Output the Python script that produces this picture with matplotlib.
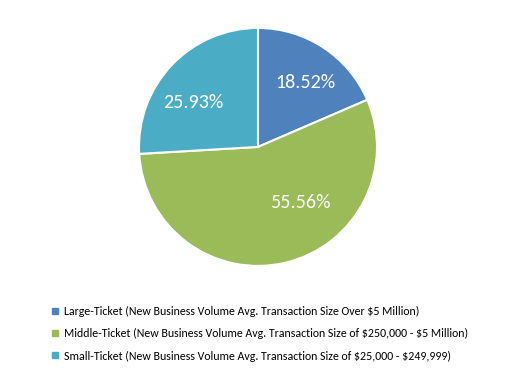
import matplotlib
matplotlib.use("Agg")
import matplotlib.pyplot as plt
from matplotlib.lines import Line2D
import numpy as np

plt.rcParams['font.family'] = ['Carlito', 'Liberation Sans', 'DejaVu Sans']
plt.rcParams['text.parse_math'] = False

categories = [
    "Large-Ticket (New Business Volume Avg. Transaction Size Over $5 Million)",
    "Middle-Ticket (New Business Volume Avg. Transaction Size of $250,000 - $5 Million)",
    "Small-Ticket (New Business Volume Avg. Transaction Size of $25,000 - $249,999)",
]
shares = [18.52, 55.56, 25.93]
colors = ['#4F81BD', '#9BBB59', '#4BACC6']

fig = plt.figure(figsize=(5.23, 3.72), dpi=100)
ax = fig.add_axes([0.2658, 0.285, 0.455, 0.64])

wedges, texts, autotexts = ax.pie(
    shares, colors=colors, startangle=90, counterclock=False,
    autopct='%.2f%%', pctdistance=0.69,
    wedgeprops=dict(edgecolor='white', linewidth=1.5),
    textprops=dict(color='white', fontsize=14.5),
)
# Excel "best fit" style nudges for the labels (radius factor, angle shift in deg)
nudges = [(0.67, -3), (0.59, 24), (0.66, 9)]
for w, t, v, (r, da) in zip(wedges, autotexts, shares, nudges):
    ang = np.deg2rad((w.theta1 + w.theta2) / 2 + da)
    t.set_position((r * np.cos(ang), r * np.sin(ang)))
    t.set_text(f'{v:.2f}%')
ax.set_xlim(-1, 1)
ax.set_ylim(-1, 1)

handles = [Line2D([], [], marker='s', linestyle='none', markersize=4.5,
                  markerfacecolor=c, markeredgecolor=c) for c in colors]
fig.legend(handles, categories, loc='upper left', bbox_to_anchor=(0.099, 0.178),
           frameon=False, fontsize=8.6, handlelength=0.6, handletextpad=0.4,
           labelspacing=0.95, borderpad=0, borderaxespad=0)

fig.savefig("out.png", dpi=100)
